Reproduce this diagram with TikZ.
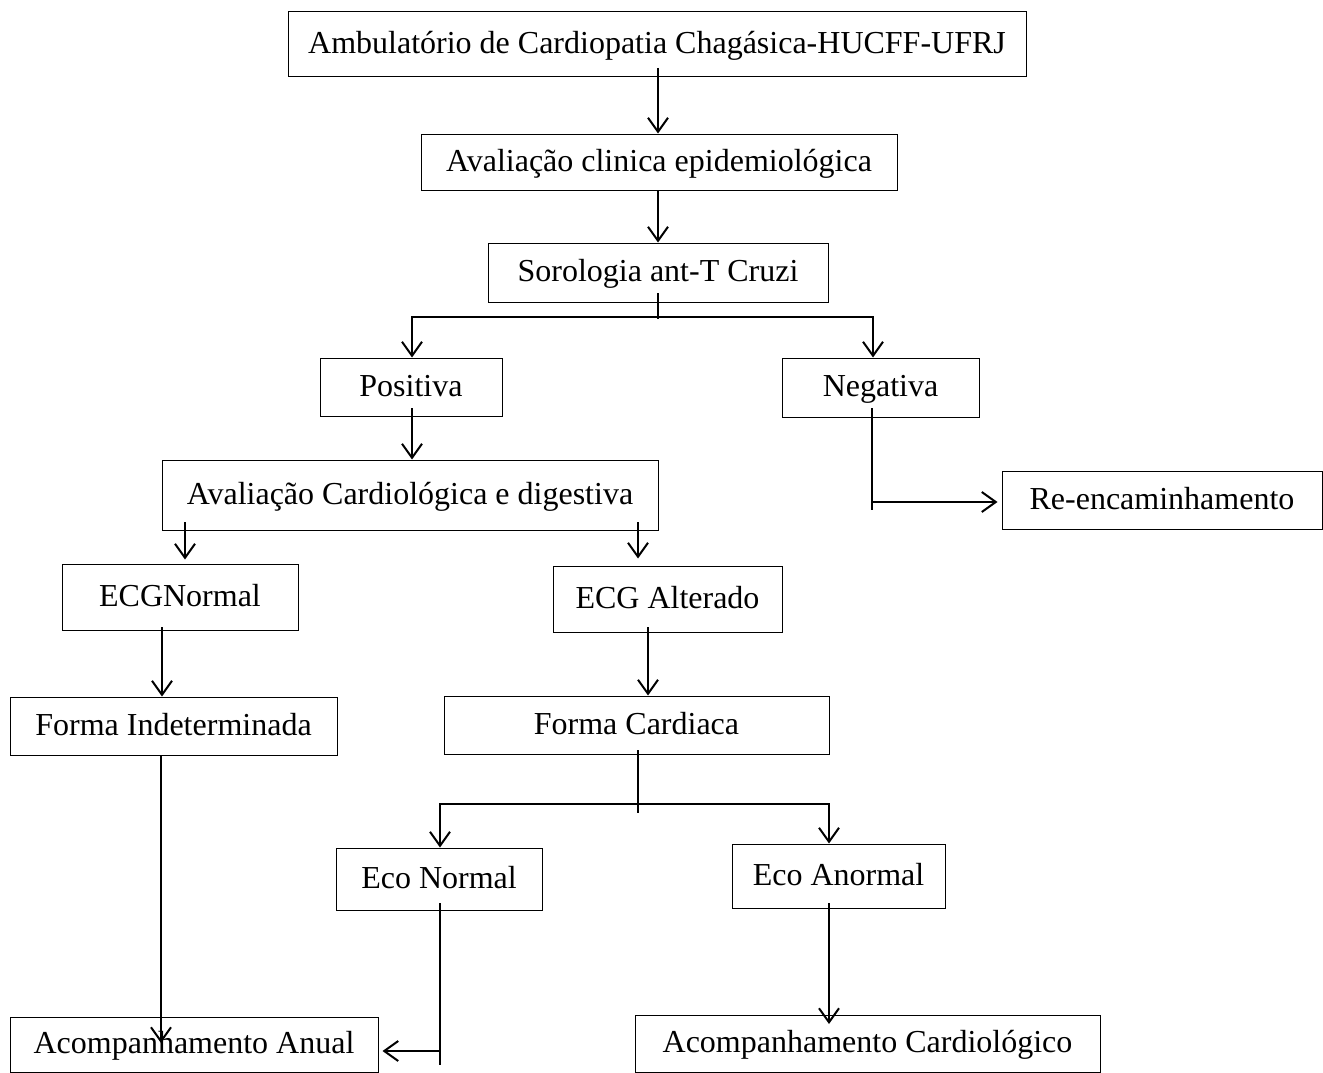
\documentclass[tikz,border=0pt]{standalone}
\usepackage{fontspec}
\setmainfont{Liberation Serif}
\usetikzlibrary{arrows.meta}
\begin{document}
\begin{tikzpicture}[x=1pt,y=-1pt,
  box/.style={draw=black,line width=1pt,rectangle,inner sep=0pt,
    font=\fontsize{32}{36}\selectfont,text height=23pt,text depth=5pt},
  conn/.style={line width=2pt},
  arr/.style={conn,-{Straight Barb[length=14pt,width=20pt]}}]
\fill[white] (0,0) rectangle (1323,1073);
\useasboundingbox (0,0) rectangle (1323,1073);

% boxes
\node[box,minimum width=738pt,minimum height=65pt] (top) at (657,44.5) {Ambulatório de Cardiopatia Chagásica-HUCFF-UFRJ};
\node[box,minimum width=476pt,minimum height=56pt] (eval) at (659,162) {Avaliação clinica epidemiológica};
\node[box,minimum width=340pt,minimum height=59pt] (soro) at (658,272.5) {Sorologia ant-T Cruzi};
\node[box,minimum width=182pt,minimum height=58pt] (pos) at (411,387) {Positiva};
\node[box,minimum width=197pt,minimum height=59pt] (neg) at (880.5,387.5) {Negativa};
\node[box,minimum width=496pt,minimum height=70pt] (aval) at (410,495) {Avaliação Cardiológica e digestiva};
\node[box,minimum width=320pt,minimum height=58pt] (reenc) at (1162,500) {Re-encaminhamento};
\node[box,minimum width=236pt,minimum height=66pt] (ecgn) at (180,597) {ECGNormal};
\node[box,minimum width=229pt,minimum height=66pt] (ecga) at (667.5,599) {ECG Alterado};
\node[box,minimum width=327pt,minimum height=58pt] (findet) at (173.5,726) {Forma Indeterminada};
\node[box,minimum width=385pt,minimum height=58pt] (fcard) at (636.5,725) {Forma Cardiaca};
\node[box,minimum width=206pt,minimum height=62pt] (econ) at (439,879) {Eco Normal};
\node[box,minimum width=213pt,minimum height=64pt] (ecoa) at (838.5,876) {Eco Anormal};
\node[box,minimum width=368pt,minimum height=55pt] (acan) at (194,1044.5) {Acompanhamento Anual};
\node[box,minimum width=465pt,minimum height=57pt] (acca) at (867.5,1043.5) {Acompanhamento Cardiológico};

% connectors
\coordinate (v1) at (658,68);
\draw[arr] (v1) -- (v1 |- eval.north);
\draw[arr] (v1 |- eval.south) -- (v1 |- soro.north);

\coordinate (s0) at (658,293);
\coordinate (s1) at (658,319);
\coordinate (sj) at (658,317);
\coordinate (sl) at (412,317);
\coordinate (sr) at (873,317);
\draw[conn] (s0) -- (s1);
\draw[arr] (sj) -- (sl) -- (sl |- pos.north);
\draw[arr] (sj) -- (sr) -- (sr |- neg.north);

\coordinate (p0) at (412,408);
\draw[arr] (p0) -- (p0 |- aval.north);

\coordinate (n0) at (872,408);
\coordinate (n1) at (872,510);
\coordinate (nj) at (872,502);
\draw[conn] (n0) -- (n1);
\draw[arr,shorten >=4pt] (nj) -- (nj -| reenc.west);

\coordinate (e1) at (185,522);
\draw[arr,shorten >=4pt] (e1) -- (e1 |- ecgn.north);
\coordinate (e2) at (638,522);
\draw[arr,shorten >=7pt] (e2) -- (e2 |- ecga.north);

\coordinate (f1) at (162,627);
\draw[arr] (f1) -- (f1 |- findet.north);
\coordinate (f2) at (648,627);
\draw[arr] (f2) -- (f2 |- fcard.north);

\coordinate (k0) at (638,750);
\coordinate (k1) at (638,813);
\coordinate (kj) at (638,804);
\coordinate (kl) at (440,804);
\coordinate (kr) at (829,804);
\draw[conn] (k0) -- (k1);
\draw[arr] (kj) -- (kl) -- (kl |- econ.north);
\draw[arr] (kj) -- (kr) -- (kr |- ecoa.north);

\coordinate (i0) at (161,755);
\coordinate (i1) at (161,1043);
\draw[arr] (i0 |- findet.south) -- (i1);

\coordinate (q0) at (440,903);
\coordinate (q1) at (440,1065);
\coordinate (qj) at (440,1051);
\draw[conn] (q0) -- (q1);
\draw[arr,shorten >=4pt] (qj) -- (qj -| acan.east);

\coordinate (r0) at (829,903);
\coordinate (r1) at (829,1024);
\draw[arr] (r0) -- (r1);
\end{tikzpicture}
\end{document}
